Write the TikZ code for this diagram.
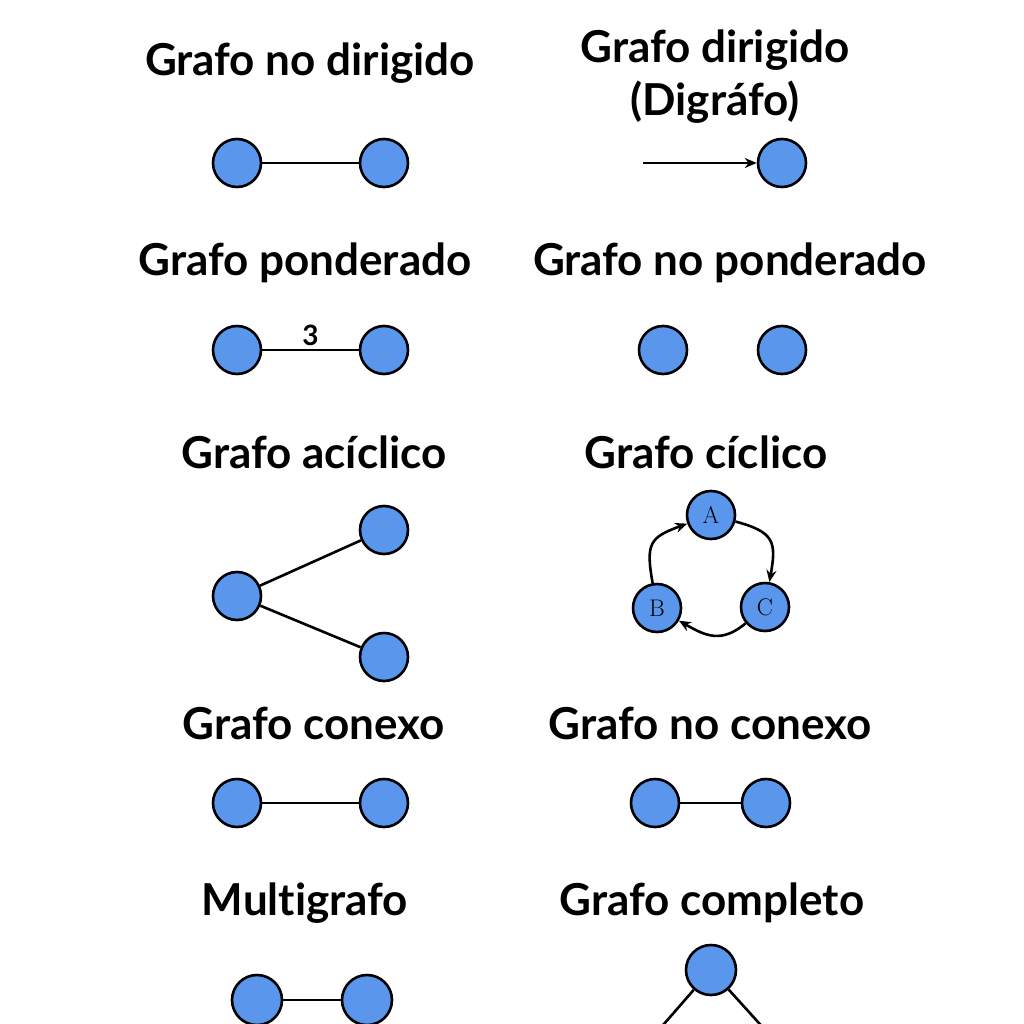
\documentclass[tikz,border=0pt]{standalone}
\usepackage{fontspec}
\newfontfamily\titlefont[Ligatures={NoCommon,NoRare}]{Lato}
\usetikzlibrary{arrows.meta}

\tikzset{
  vert/.style={circle,draw=black,line width=2.6pt,fill=vblue,minimum size=48pt,inner sep=0pt},
  ttl/.style={font=\titlefont\bfseries\fontsize{44}{53}\selectfont,align=center},
  edge/.style={line width=2.6pt}
}
\definecolor{vblue}{RGB}{90,150,236}

\begin{document}
\begin{tikzpicture}[x=1pt,y=-1pt,>={Stealth[length=12pt,width=10pt]}]
        \useasboundingbox (0,0) rectangle (1024,1024);
        % titles
        \node [ttl] (t1) at (310,63) {Grafo no dirigido};
        \node [ttl] (t2) at (715,77) {Grafo dirigido\\(Digráfo)};
        \node [ttl] (t3) at (305,263) {Grafo ponderado};
        \node [ttl] (t4) at (730,263) {Grafo no ponderado};
        \node [ttl] (t5) at (314,452) {Grafo acíclico};
        \node [ttl] (t6) at (706,452) {Grafo cíclico};
        \node [ttl] (t7) at (314,723) {Grafo conexo};
        \node [ttl] (t8) at (710,723) {Grafo no conexo};
        \node [ttl] (t9) at (305,903) {Multigrafo};
        \node [ttl] (t10) at (712,903) {Grafo completo};
        % no dirigido / dirigido
        \node [vert] (u1) at (237,163) {};
        \node [vert] (u2) at (384,163) {};
        \draw [edge] (u1) -- (u2);
        \coordinate (d0) at (643,163);
        \node [vert] (d1) at (782,163) {};
        \draw [edge,->] (d0) -- (d1);
        % ponderado / no ponderado
        \node [vert] (p1) at (237,350) {};
        \node [vert] (p2) at (384,350) {};
        \draw [edge] (p1) -- (p2) node [midway,above=0pt,font=\titlefont\bfseries\fontsize{28}{30}\selectfont] {3};
        \node [vert] (n1) at (663,350) {};
        \node [vert] (n2) at (782,350) {};
        % aciclico
        \node [vert] (a1) at (237,596) {};
        \node [vert] (a2) at (384,530) {};
        \node [vert] (a3) at (384,657) {};
        \draw [edge] (a1) -- (a2);
        \draw [edge] (a1) -- (a3);
        % ciclico
        \node [vert,font=\fontsize{24}{26}\selectfont] (cA) at (711,515) {A};
        \node [vert,font=\fontsize{24}{26}\selectfont] (cB) at (657,608) {B};
        \node [vert,font=\fontsize{24}{26}\selectfont] (cC) at (765,607) {C};
        \draw [edge,->] (cA) to [out=-15,in=80,looseness=1.5] (cC);
        \draw [edge,->] (cC) to [out=-140,in=-30,looseness=1.2] (cB);
        \draw [edge,->] (cB) to [out=100,in=200,looseness=1.5] (cA);
        % conexo / no conexo
        \node [vert] (k1) at (237,803) {};
        \node [vert] (k2) at (384,803) {};
        \draw [edge] (k1) -- (k2);
        \node [vert] (m1) at (655,803) {};
        \node [vert] (m2) at (766,803) {};
        \draw [edge] (m1) -- (m2);
        % multigrafo / completo
        \node [vert,minimum height=50pt] (g1) at (257,1000) {};
        \node [vert,minimum height=50pt] (g2) at (367,1000) {};
        \draw [edge] (g1) -- (g2);
        \node [vert,minimum height=50pt] (c1) at (711,970) {};
        \coordinate (c2) at (657,1032);
        \coordinate (c3) at (767,1032);
        \draw [edge] (c1) -- (c2);
        \draw [edge] (c1) -- (c3);
\end{tikzpicture}
\end{document}
